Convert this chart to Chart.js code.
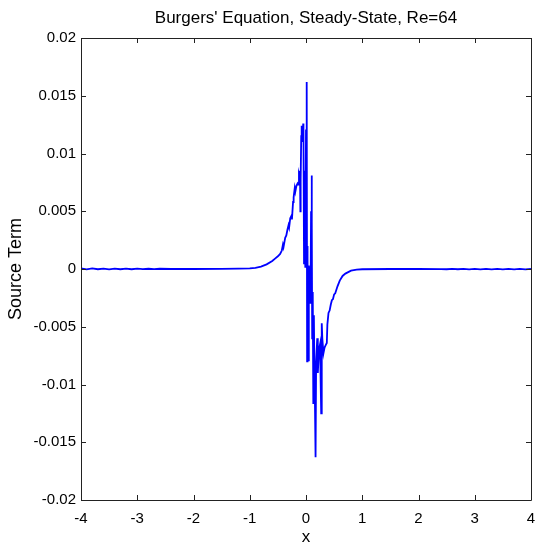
<!DOCTYPE html>
<html>
<head>
<meta charset="utf-8">
<script src="https://cdn.jsdelivr.net/npm/chart.js@4.4.1/dist/chart.umd.min.js"></script>
<style>
  html, body { margin: 0; padding: 0; background: #ffffff; }
  #wrap { width: 546px; height: 544px; }
</style>
</head>
<body>
<div id="wrap"><canvas id="c" width="546" height="544"></canvas></div>
<script>
const chartTitle = "Burgers' Equation, Steady-State, Re=64";
const xLabel = "x";
const yLabel = "Source Term";
const xTicks = [-4, -3, -2, -1, 0, 1, 2, 3, 4];
const yTicks = [-0.02, -0.015, -0.01, -0.005, 0, 0.005, 0.01, 0.015, 0.02];

const xs = [
  -4.0, -3.9, -3.8, -3.7, -3.6, -3.5, -3.4, -3.3, -3.2, -3.1, -3.0, -2.9, -2.8, -2.7, -2.6,
  -2.4, -2.0, -1.5, -1.2, -1.0, -0.9, -0.8, -0.7, -0.6, -0.55, -0.5, -0.46, -0.43, -0.41, -0.40,
  -0.37, -0.35, -0.33, -0.31, -0.30, -0.28, -0.26, -0.25, -0.23, -0.22, -0.20, -0.19, -0.17, -0.15, -0.14,
  -0.125, -0.115, -0.107, -0.10, -0.095, -0.085, -0.077, -0.07, -0.06, -0.05, -0.045, -0.035, -0.03, -0.02, -0.012,
  0.0, 0.01, 0.015, 0.02, 0.025, 0.03, 0.04, 0.05, 0.06, 0.07, 0.08, 0.09, 0.10, 0.105, 0.11,
  0.12, 0.13, 0.14, 0.15, 0.16, 0.17, 0.18, 0.20, 0.21, 0.23, 0.25, 0.27, 0.28, 0.29, 0.31,
  0.33, 0.35, 0.37, 0.38, 0.40, 0.42, 0.44, 0.46, 0.48, 0.50, 0.52, 0.56, 0.60, 0.65, 0.70,
  0.80, 0.90, 1.0, 1.5, 2.0, 2.4, 2.5, 2.6, 2.7, 2.8, 2.9, 3.0, 3.1, 3.2, 3.3,
  3.4, 3.5, 3.6, 3.7, 3.8, 3.9, 4.0
];
const ys = [
  0.00005, -0.00003, 0.00005, -0.00002, 0.00004, -0.00003, 0.00004, -0.00002, 0.00003, -0.00002, 0.00003, -0.00001, 0.00002, -0.00001, 0.00002,
  0.0, 0.0, 0.00001, 0.00003, 0.00006, 0.0001, 0.0002, 0.0004, 0.0007, 0.0009, 0.0011, 0.0013, 0.0016, 0.0021, 0.0019,
  0.0027, 0.0029, 0.0034, 0.0038, 0.0036, 0.0044, 0.0046, 0.0043, 0.0058, 0.0062, 0.0070, 0.0067, 0.0072, 0.0074, 0.0073,
  0.0082, 0.0080, 0.0085, 0.0050, 0.0078, 0.0115, 0.0124, 0.0118, 0.0110, 0.0126, 0.0121, 0.0005, 0.0085, 0.0025, 0.0001,
  0.0120, 0.0162, 0.0160, -0.0080, 0.0020, 0.0009, -0.0079, 0.0003, -0.0010, 0.0002, -0.0030, 0.0050, 0.0081, 0.0040, -0.0060,
  -0.0020, -0.0116, -0.0040, -0.0090, -0.0120, -0.0163, -0.0080, -0.0060, -0.0090, -0.0070, -0.0065, -0.0125, -0.0047, -0.0060, -0.0073,
  -0.0068, -0.0066, -0.0064, -0.0048, -0.0038, -0.0036, -0.0031, -0.0027, -0.0026, -0.0022, -0.0021, -0.0015, -0.0010, -0.0006, -0.0004,
  -0.00015, -0.00006, -0.00002, 0.0, 0.0, -0.00001, -0.00002, 0.00001, -0.00002, 0.00001, -0.00003, 0.00001, -0.00003, 0.00001, -0.00004,
  0.00001, -0.00004, 0.00001, -0.00004, 0.00001, -0.00004, 0.00001
];

const points = xs.map((x, i) => ({ x: x, y: ys[i] }));

const FONT = "'Liberation Sans', Arial, Helvetica, sans-serif";

const boxTicks = {
  id: 'boxTicks',
  afterDraw(chart) {
    const ctx = chart.ctx;
    const a = chart.chartArea;
    const sx = chart.scales.x, sy = chart.scales.y;
    ctx.save();
    ctx.strokeStyle = '#222222';
    ctx.lineWidth = 1;
    ctx.beginPath();
    ctx.rect(Math.round(a.left) + 0.5, Math.round(a.top) + 0.5, Math.round(a.right - a.left), Math.round(a.bottom - a.top));
    ctx.stroke();
    const L = 5;
    ctx.beginPath();
    xTicks.forEach(v => {
      const px = Math.round(sx.getPixelForValue(v)) + 0.5;
      ctx.moveTo(px, a.bottom); ctx.lineTo(px, a.bottom - L);
      ctx.moveTo(px, a.top); ctx.lineTo(px, a.top + L);
    });
    yTicks.forEach(v => {
      const py = Math.round(sy.getPixelForValue(v)) + 0.5;
      ctx.moveTo(a.left, py); ctx.lineTo(a.left + L, py);
      ctx.moveTo(a.right, py); ctx.lineTo(a.right - L, py);
    });
    ctx.stroke();
    // title centred over the axes box, like MATLAB
    ctx.fillStyle = '#000000';
    ctx.font = "17px " + FONT;
    ctx.textAlign = 'center';
    ctx.textBaseline = 'alphabetic';
    ctx.fillText(chartTitle, (a.left + a.right) / 2, 23);
    ctx.restore();
  }
};

new Chart(document.getElementById('c'), {
  type: 'scatter',
  data: {
    datasets: [{
      data: points,
      showLine: true,
      borderColor: '#0000ff',
      backgroundColor: '#0000ff',
      borderWidth: 1.8,
      pointRadius: 0,
      tension: 0
    }]
  },
  options: {
    responsive: false,
    animation: false,
    devicePixelRatio: 1,
    layout: { padding: { left: 0, right: 15, top: 38, bottom: 0 } },
    plugins: {
      legend: { display: false },
      tooltip: { enabled: false },
      title: { display: false }
    },
    scales: {
      x: {
        type: 'linear',
        min: -4, max: 4,
        afterFit(s) { s.height = 44; },
        afterBuildTicks(s) { s.ticks = xTicks.map(v => ({ value: v })); },
        grid: { display: false, drawTicks: false },
        border: { display: false },
        ticks: {
          color: '#000000',
          font: { family: FONT, size: 15 },
          padding: 10,
          maxRotation: 0,
          autoSkip: false,
          callback: v => String(v)
        },
        title: {
          display: true, text: xLabel, color: '#000000',
          font: { family: FONT, size: 17, lineHeight: 0.8 },
          padding: { top: 0, bottom: 0 }
        }
      },
      y: {
        type: 'linear',
        min: -0.02, max: 0.02,
        afterFit(s) { s.width = 81; },
        afterBuildTicks(s) { s.ticks = yTicks.map(v => ({ value: v })); },
        grid: { display: false, drawTicks: false },
        border: { display: false },
        ticks: {
          color: '#000000',
          font: { family: FONT, size: 15 },
          padding: 5,
          autoSkip: false,
          callback: v => String(+Number(v).toFixed(3))
        },
        title: {
          display: true, text: yLabel, color: '#000000',
          font: { family: FONT, size: 18, lineHeight: 1.2 },
          padding: { top: 5, bottom: 0 }
        }
      }
    }
  },
  plugins: [boxTicks]
});
</script>
</body>
</html>
